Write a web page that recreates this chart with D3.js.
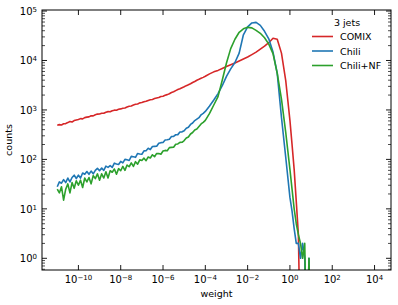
<!DOCTYPE html>
<html>
<head>
<meta charset="utf-8">
<script src="https://cdn.jsdelivr.net/npm/d3@7"></script>
<style>
  html, body { margin: 0; padding: 0; background: #fff; }
  svg { display: block; font-family: "DejaVu Sans", sans-serif; }
</style>
</head>
<body>
<svg id="chart" width="398" height="305"></svg>
<script>
// bin centres, given as log10(weight)
var weightExp = [
  -11.0, -10.9, -10.8, -10.7, -10.6, -10.5, -10.4, -10.3, -10.2, -10.1,
  -10.0, -9.9, -9.8, -9.7, -9.6, -9.5, -9.4, -9.3, -9.2, -9.1,
  -9.0, -8.9, -8.8, -8.7, -8.6, -8.5, -8.4, -8.3, -8.2, -8.1,
  -8.0, -7.9, -7.8, -7.7, -7.6, -7.5, -7.4, -7.3, -7.2, -7.1,
  -7.0, -6.9, -6.8, -6.7, -6.6, -6.5, -6.4, -6.3, -6.2, -6.1,
  -6.0, -5.9, -5.8, -5.7, -5.6, -5.5, -5.4, -5.3, -5.2, -5.1,
  -5.0, -4.9, -4.8, -4.7, -4.6, -4.5, -4.4, -4.3, -4.2, -4.1,
  -4.0,
  -3.8, -3.6, -3.4, -3.2, -3.0, -2.8, -2.6, -2.4, -2.2, -2.0,
  -1.8, -1.6, -1.4, -1.2, -1.0, -0.8, -0.6, -0.4, -0.2,
  0.0, 0.1, 0.2, 0.3, 0.4, 0.5, 0.6, 0.7, 0.8, 0.9, 1.0
];

var comix = [
  490, 505, 498, 525, 530, 555, 585, 570, 610, 625,
  640, 668, 660, 700, 715, 725, 765, 760, 800, 825,
  830, 860, 855, 900, 925, 920, 965, 990, 985, 1030,
  1050, 1080, 1095, 1150, 1190, 1205, 1260, 1300, 1320, 1390,
  1410, 1470, 1500, 1560, 1610, 1630, 1700, 1750, 1790, 1870,
  1900, 1980, 2040, 2130, 2250, 2330, 2460, 2580, 2680, 2820,
  2950, 3100, 3230, 3390, 3580, 3760, 3990, 4160, 4370, 4560,
  4790,
  5370, 5890, 6310, 6920, 7590, 8220, 8910, 9770, 10700, 11750,
  13180, 14790, 16980, 19500, 22900, 28200, 26900, 14100, 3980,
  617, 200, 63, 14, 3, 0, 0, 0, 0, 0, 0
];

var chili = [
  28, 35, 33, 39, 34, 42, 35, 43, 48, 41,
  48, 42, 53, 50, 57, 50, 58, 51, 60, 66,
  59, 67, 60, 73, 69, 75, 69, 84, 81, 79,
  91, 85, 100, 98, 95, 115, 113, 110, 132, 129,
  127, 149, 150, 168, 158, 182, 183, 184, 212, 218,
  219, 247, 249, 256, 290, 292, 315, 317, 358, 361,
  380, 426, 445, 509, 545, 610, 652, 697, 798, 853,
  933,
  1200, 1585, 2140, 3090, 4790, 6760, 9120, 14100, 33100, 47900,
  57500, 58900, 51300, 38900, 27500, 14800, 5500, 708, 112,
  17, 9, 4, 2, 2, 1, 2, 1, 0, 1, 0
];

var chiliNF = [
  25, 21, 28, 15, 25, 32, 21, 34, 26, 37,
  30, 38, 27, 42, 35, 43, 32, 47, 41, 51,
  38, 51, 42, 56, 42, 59, 55, 64, 50, 65,
  59, 72, 60, 77, 71, 85, 72, 90, 80, 98,
  95, 106, 94, 112, 107, 124, 113, 132, 131, 127,
  148, 152, 150, 173, 175, 176, 203, 205, 221, 222,
  240, 270, 283, 326, 350, 394, 413, 465, 522, 561,
  617,
  850, 1260, 1860, 3980, 8900, 17400, 26900, 37200, 43700, 46800,
  45700, 40700, 35500, 28800, 21400, 13800, 5500, 1660, 355,
  63, 25, 10, 5, 3, 2, 1, 2, 0, 1, 0
];

var seriesNames = ["COMIX", "Chili", "Chili+NF"];
var seriesColors = ["#d62728", "#1f77b4", "#2ca02c"];
var legendTitle = "3 jets";
var xTickExp = [-10, -8, -6, -4, -2, 0, 2, 4];
var yTickExp = [0, 1, 2, 3, 4, 5];

var svg = d3.select("#chart"),
    margin = {top: 10, right: 7, bottom: 35, left: 42},
    width = 398 - margin.left - margin.right,
    height = 305 - margin.top - margin.bottom,
    g = svg.append("g").attr("transform", "translate(" + margin.left + "," + margin.top + ")");

var x = d3.scaleLog().domain([1.9e-12, 6.0e4]).range([0, width]),
    y = d3.scaleLog().domain([0.58, 1.05e5]).range([height, 0]);

svg.append("defs").append("clipPath").attr("id", "plotArea")
  .append("rect").attr("width", width).attr("height", height);

var line = d3.line()
  .x(function(d) { return x(Math.pow(10, d[0])); })
  .y(function(d) { return y(Math.max(d[1], 0.01)); });

var plot = g.append("g").attr("clip-path", "url(#plotArea)");
[comix, chili, chiliNF].forEach(function(vals, i) {
  var pts = weightExp.map(function(e, k) { return [e, vals[k]]; });
  plot.append("path")
    .datum(pts)
    .attr("fill", "none")
    .attr("stroke", seriesColors[i])
    .attr("stroke-width", 1.6)
    .attr("stroke-linejoin", "round")
    .attr("d", line);
});

// frame
g.append("rect")
  .attr("width", width).attr("height", height)
  .attr("fill", "none").attr("stroke", "#000").attr("stroke-width", 1);

function tickLabel(sel, e) {
  sel.append("tspan").text("10");
  sel.append("tspan")
    .attr("dy", "-0.45em")
    .attr("font-size", "7px")
    .text(e < 0 ? "\u2212" + (-e) : e);
}

// x ticks (inward, bottom and top)
xTickExp.forEach(function(e) {
  var px = x(Math.pow(10, e));
  g.append("line").attr("x1", px).attr("x2", px).attr("y1", height).attr("y2", height - 5)
    .attr("stroke", "#000").attr("stroke-width", 0.9);
  g.append("line").attr("x1", px).attr("x2", px).attr("y1", 0).attr("y2", 5)
    .attr("stroke", "#000").attr("stroke-width", 0.9);
  g.append("text")
    .attr("x", px).attr("y", height + 13)
    .attr("text-anchor", "middle")
    .attr("font-size", "10px")
    .attr("fill", "#000")
    .call(tickLabel, e);
});

// y ticks with minors (inward, left and right)
var yMinor = [];
[-1, 0, 1, 2, 3, 4].forEach(function(e) {
  for (var m = 2; m <= 9; m++) yMinor.push(m * Math.pow(10, e));
});
yMinor.filter(function(v) { return v >= 0.58 && v <= 1.05e5; }).forEach(function(v) {
  var py = y(v);
  g.append("line").attr("x1", 0).attr("x2", 3).attr("y1", py).attr("y2", py)
    .attr("stroke", "#000").attr("stroke-width", 0.7);
  g.append("line").attr("x1", width).attr("x2", width - 3).attr("y1", py).attr("y2", py)
    .attr("stroke", "#000").attr("stroke-width", 0.7);
});
yTickExp.forEach(function(e) {
  var py = y(Math.pow(10, e));
  g.append("line").attr("x1", 0).attr("x2", 5).attr("y1", py).attr("y2", py)
    .attr("stroke", "#000").attr("stroke-width", 0.9);
  g.append("line").attr("x1", width).attr("x2", width - 5).attr("y1", py).attr("y2", py)
    .attr("stroke", "#000").attr("stroke-width", 0.9);
  g.append("text")
    .attr("x", -5).attr("y", py + 4)
    .attr("text-anchor", "end")
    .attr("font-size", "10px")
    .attr("fill", "#000")
    .call(tickLabel, e);
});

// axis labels
g.append("text")
  .attr("x", width / 2).attr("y", height + 27)
  .attr("text-anchor", "middle").attr("font-size", "9.5px")
  .text("weight");
g.append("text")
  .attr("transform", "translate(" + (-30) + "," + (height / 2) + ") rotate(-90)")
  .attr("text-anchor", "middle").attr("font-size", "9.5px")
  .text("counts");

// legend
var leg = svg.append("g");
leg.append("text")
  .attr("x", 347).attr("y", 26)
  .attr("text-anchor", "middle").attr("font-size", "9.5px")
  .text(legendTitle);
seriesNames.forEach(function(name, i) {
  var ly = 36.5 + i * 14.5;
  leg.append("line")
    .attr("x1", 312).attr("x2", 333).attr("y1", ly).attr("y2", ly)
    .attr("stroke", seriesColors[i]).attr("stroke-width", 1.6);
  leg.append("text")
    .attr("x", 340).attr("y", ly + 3.5)
    .attr("font-size", "9.5px")
    .text(name);
});
</script>
</body>
</html>
